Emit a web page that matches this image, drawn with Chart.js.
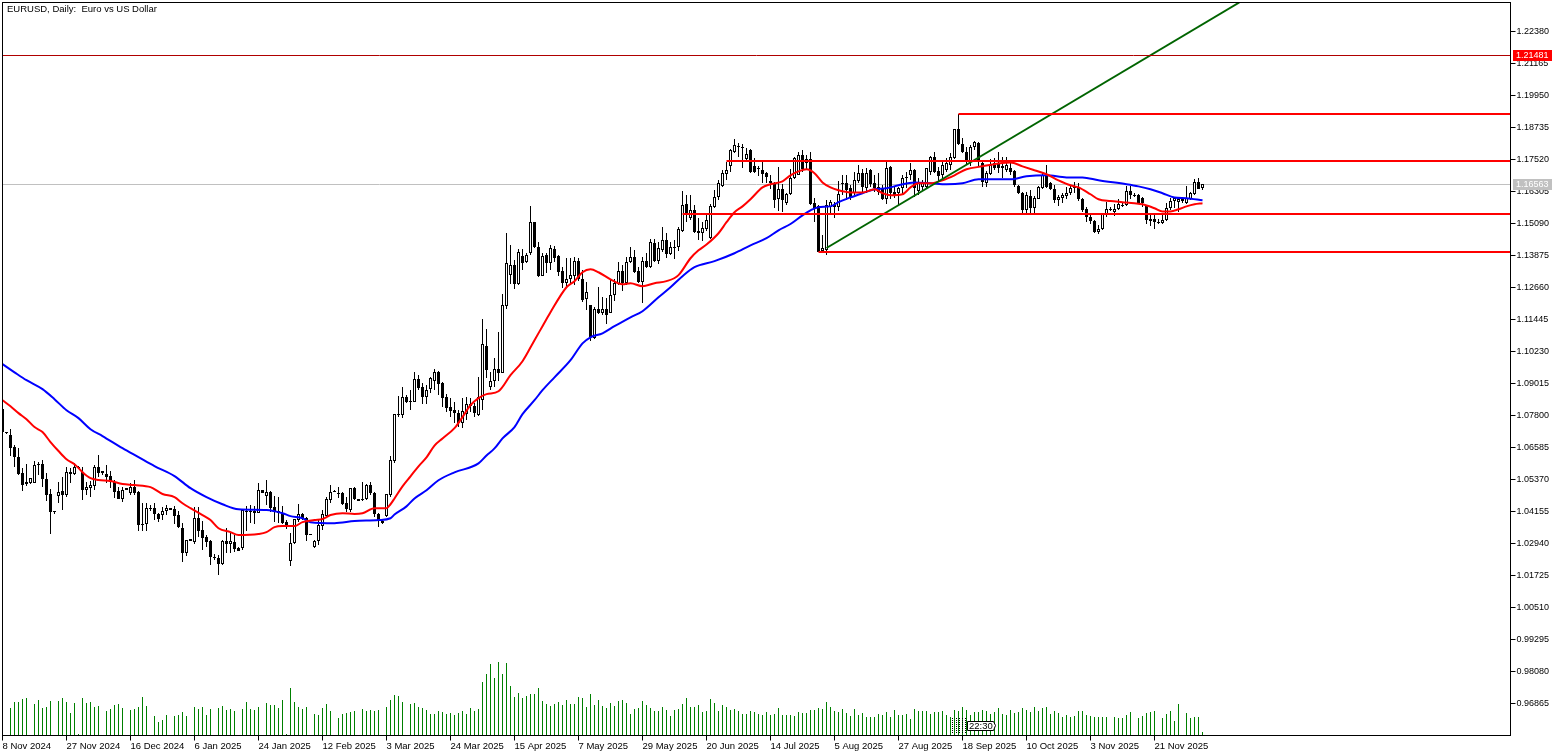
<!DOCTYPE html>
<html>
<head>
<meta charset="utf-8">
<title>EURUSD, Daily</title>
<script src="https://cdn.jsdelivr.net/npm/chart.js@4"></script>
<style>
  html, body { margin: 0; padding: 0; background: #fff; overflow: hidden; }
  canvas { display: block; }
</style>
</head>
<body>
<canvas id="chart" width="1563" height="756"></canvas>
<script>
// Daily bars
const opens = [
  1.0803,1.0715,1.0704,1.0659,1.0620,1.0560,1.0525,1.0522,1.0522,1.0594,
  1.0594,1.0537,1.0480,1.0416,1.0473,1.0491,1.0476,1.0564,1.0556,1.0582,
  1.0564,1.0495,1.0503,1.0510,1.0582,1.0568,1.0556,1.0549,1.0525,1.0491,
  1.0461,1.0495,1.0484,1.0506,1.0488,1.0367,1.0367,1.0428,1.0428,1.0405,
  1.0401,1.0416,1.0428,1.0424,1.0401,1.0352,1.0257,1.0310,1.0298,1.0390,
  1.0344,1.0317,1.0302,1.0241,1.0237,1.0215,1.0302,1.0291,1.0298,1.0275,
  1.0275,1.0416,1.0416,1.0416,1.0409,1.0495,1.0473,1.0488,1.0431,1.0416,
  1.0405,1.0374,1.0226,1.0295,1.0382,1.0405,1.0390,1.0329,1.0279,1.0302,
  1.0359,1.0397,1.0458,1.0488,1.0484,1.0484,1.0446,1.0420,1.0503,1.0461,
  1.0458,1.0461,1.0514,1.0484,1.0405,1.0378,1.0397,1.0476,1.0605,1.0784,
  1.0780,1.0848,1.0833,1.0829,1.0917,1.0887,1.0848,1.0879,1.0909,1.0943,
  1.0902,1.0848,1.0810,1.0799,1.0788,1.0750,1.0784,1.0814,1.0814,1.0780,
  1.0837,1.1042,1.0887,1.0909,1.0955,1.0940,1.1195,1.1312,1.1350,1.1278,
  1.1384,1.1361,1.1396,1.1513,1.1418,1.1308,1.1388,1.1358,1.1411,1.1384,
  1.1327,1.1282,1.1297,1.1308,1.1365,1.1297,1.1221,1.1198,1.1073,1.1183,
  1.1168,1.1183,1.1168,1.1236,1.1278,1.1327,1.1282,1.1361,1.1380,1.1327,
  1.1285,1.1365,1.1342,1.1434,1.1365,1.1407,1.1445,1.1392,1.1418,1.1418,
  1.1479,1.1582,1.1529,1.1559,1.1479,1.1471,1.1487,1.1453,1.1570,1.1608,
  1.1650,1.1696,1.1726,1.1779,1.1802,1.1798,1.1752,1.1786,1.1726,1.1718,
  1.1711,1.1699,1.1669,1.1661,1.1601,1.1639,1.1586,1.1620,1.1680,1.1692,
  1.1768,1.1752,1.1752,1.1586,1.1574,1.1403,1.1407,1.1570,1.1578,1.1570,
  1.1661,1.1661,1.1642,1.1624,1.1669,1.1699,1.1642,1.1711,1.1661,1.1646,
  1.1642,1.1601,1.1722,1.1627,1.1624,1.1642,1.1680,1.1692,1.1711,1.1631,
  1.1646,1.1646,1.1703,1.1760,1.1707,1.1692,1.1711,1.1730,1.1756,1.1866,
  1.1809,1.1779,1.1741,1.1798,1.1813,1.1737,1.1661,1.1696,1.1737,1.1737,
  1.1726,1.1711,1.1718,1.1707,1.1650,1.1623,1.1559,1.1612,1.1567,1.1601,
  1.1642,1.1696,1.1661,1.1639,1.1597,1.1605,1.1612,1.1623,1.1642,1.1646,
  1.1601,1.1563,1.1532,1.1517,1.1475,1.1487,1.1540,1.1563,1.1552,1.1563,
  1.1578,1.1578,1.1631,1.1616,1.1616,1.1605,1.1574,1.1525,1.1525,1.1513,
  1.1509,1.1521,1.1567,1.1593,1.1589,1.1601,1.1586,1.1601,1.1620,1.1665,1.1642
];
const highs = [
  1.0803,1.0715,1.0727,1.0666,1.0655,1.0579,1.0594,1.0541,1.0605,1.0601,
  1.0609,1.0560,1.0499,1.0416,1.0525,1.0545,1.0582,1.0579,1.0598,1.0586,
  1.0582,1.0525,1.0530,1.0590,1.0628,1.0568,1.0590,1.0568,1.0533,1.0506,
  1.0506,1.0503,1.0522,1.0533,1.0491,1.0446,1.0446,1.0439,1.0446,1.0409,
  1.0431,1.0439,1.0428,1.0435,1.0416,1.0371,1.0306,1.0310,1.0431,1.0431,
  1.0378,1.0325,1.0306,1.0253,1.0249,1.0306,1.0352,1.0336,1.0325,1.0279,
  1.0420,1.0435,1.0439,1.0435,1.0522,1.0495,1.0533,1.0491,1.0473,1.0469,
  1.0435,1.0382,1.0333,1.0386,1.0443,1.0409,1.0393,1.0329,1.0306,1.0382,
  1.0420,1.0469,1.0514,1.0495,1.0506,1.0488,1.0469,1.0503,1.0506,1.0461,
  1.0525,1.0518,1.0525,1.0488,1.0409,1.0382,1.0480,1.0624,1.0784,1.0852,
  1.0886,1.0856,1.0875,1.0943,1.0932,1.0902,1.0894,1.0924,1.0955,1.0947,
  1.0905,1.0860,1.0845,1.0829,1.0799,1.0845,1.0848,1.0845,1.0826,1.0924,
  1.1145,1.1107,1.0943,1.0997,1.1096,1.1240,1.1472,1.1426,1.1369,1.1411,
  1.1411,1.1396,1.1574,1.1513,1.1437,1.1396,1.1396,1.1426,1.1422,1.1388,
  1.1342,1.1377,1.1377,1.1380,1.1377,1.1331,1.1285,1.1198,1.1190,1.1267,
  1.1229,1.1225,1.1297,1.1297,1.1361,1.1350,1.1380,1.1418,1.1407,1.1342,
  1.1380,1.1396,1.1449,1.1449,1.1437,1.1494,1.1472,1.1437,1.1445,1.1494,
  1.1631,1.1616,1.1616,1.1578,1.1529,1.1513,1.1548,1.1582,1.1635,1.1673,
  1.1711,1.1741,1.1790,1.1828,1.1813,1.1809,1.1794,1.1790,1.1756,1.1726,
  1.1745,1.1703,1.1692,1.1665,1.1722,1.1658,1.1624,1.1715,1.1760,1.1779,
  1.1786,1.1768,1.1779,1.1605,1.1578,1.1464,1.1597,1.1597,1.1589,1.1669,
  1.1692,1.1692,1.1654,1.1703,1.1730,1.1715,1.1718,1.1715,1.1692,1.1699,
  1.1654,1.1741,1.1726,1.1646,1.1646,1.1692,1.1703,1.1737,1.1715,1.1680,
  1.1673,1.1718,1.1764,1.1779,1.1722,1.1749,1.1756,1.1775,1.1866,1.1923,
  1.1832,1.1798,1.1805,1.1821,1.1817,1.1749,1.1707,1.1752,1.1756,1.1779,
  1.1760,1.1760,1.1737,1.1711,1.1654,1.1627,1.1627,1.1635,1.1612,1.1650,
  1.1703,1.1730,1.1665,1.1654,1.1616,1.1623,1.1646,1.1654,1.1665,1.1661,
  1.1605,1.1570,1.1540,1.1521,1.1502,1.1544,1.1589,1.1570,1.1582,1.1601,
  1.1586,1.1650,1.1650,1.1623,1.1620,1.1608,1.1578,1.1548,1.1548,1.1525,
  1.1548,1.1586,1.1605,1.1608,1.1608,1.1608,1.1650,1.1627,1.1677,1.1680,1.1658
];
const lows = [
  1.0685,1.0708,1.0624,1.0582,1.0552,1.0491,1.0510,1.0518,1.0522,1.0552,
  1.0506,1.0454,1.0329,1.0405,1.0446,1.0420,1.0469,1.0522,1.0552,1.0578,
  1.0458,1.0476,1.0469,1.0495,1.0545,1.0552,1.0522,1.0503,1.0465,1.0461,
  1.0450,1.0495,1.0476,1.0476,1.0340,1.0340,1.0340,1.0416,1.0382,1.0374,
  1.0382,1.0401,1.0420,1.0367,1.0352,1.0222,1.0245,1.0302,1.0291,1.0317,
  1.0268,1.0279,1.0211,1.0230,1.0173,1.0211,1.0257,1.0257,1.0260,1.0264,
  1.0268,1.0340,1.0371,1.0367,1.0409,1.0484,1.0439,1.0412,1.0374,1.0371,
  1.0367,1.0348,1.0207,1.0291,1.0374,1.0382,1.0302,1.0325,1.0275,1.0287,
  1.0344,1.0389,1.0446,1.0488,1.0465,1.0438,1.0412,1.0412,1.0458,1.0454,
  1.0454,1.0458,1.0476,1.0393,1.0355,1.0367,1.0393,1.0469,1.0598,1.0773,
  1.0769,1.0826,1.0799,1.0829,1.0875,1.0822,1.0822,1.0864,1.0875,1.0856,
  1.0810,1.0792,1.0773,1.0750,1.0735,1.0731,1.0761,1.0792,1.0773,1.0777,
  1.0799,1.0921,1.0875,1.0887,1.0909,1.0940,1.1183,1.1278,1.1259,1.1274,
  1.1331,1.1358,1.1388,1.1414,1.1304,1.1308,1.1320,1.1331,1.1361,1.1308,
  1.1263,1.1267,1.1274,1.1274,1.1289,1.1209,1.1179,1.1061,1.1069,1.1164,
  1.1160,1.1126,1.1168,1.1213,1.1274,1.1251,1.1274,1.1358,1.1320,1.1282,
  1.1206,1.1339,1.1339,1.1361,1.1354,1.1399,1.1377,1.1388,1.1373,1.1403,
  1.1475,1.1513,1.1521,1.1471,1.1445,1.1441,1.1479,1.1449,1.1567,1.1597,
  1.1646,1.1673,1.1703,1.1775,1.1760,1.1719,1.1749,1.1699,1.1699,1.1688,
  1.1661,1.1661,1.1639,1.1567,1.1555,1.1552,1.1578,1.1616,1.1677,1.1692,
  1.1703,1.1711,1.1578,1.1513,1.1399,1.1399,1.1388,1.1548,1.1529,1.1555,
  1.1616,1.1597,1.1597,1.1616,1.1661,1.1624,1.1624,1.1646,1.1627,1.1616,
  1.1597,1.1582,1.1601,1.1605,1.1578,1.1616,1.1642,1.1673,1.1608,1.1616,
  1.1635,1.1642,1.1692,1.1699,1.1665,1.1680,1.1703,1.1711,1.1752,1.1805,
  1.1775,1.1730,1.1726,1.1786,1.1726,1.1646,1.1646,1.1692,1.1711,1.1699,
  1.1680,1.1703,1.1692,1.1646,1.1620,1.1548,1.1548,1.1548,1.1548,1.1601,
  1.1639,1.1642,1.1635,1.1586,1.1574,1.1586,1.1601,1.1616,1.1623,1.1593,
  1.1552,1.1513,1.1506,1.1471,1.1468,1.1483,1.1532,1.1555,1.1536,1.1559,
  1.1570,1.1574,1.1601,1.1608,1.1582,1.1570,1.1506,1.1498,1.1487,1.1506,
  1.1506,1.1517,1.1559,1.1567,1.1552,1.1586,1.1582,1.1597,1.1616,1.1639,1.1635
];
const closes = [
  1.0715,1.0713,1.0655,1.0621,1.0556,1.0514,1.0518,1.0541,1.0590,1.0590,
  1.0537,1.0476,1.0412,1.0412,1.0488,1.0476,1.0564,1.0556,1.0582,1.0582,
  1.0495,1.0506,1.0514,1.0582,1.0560,1.0560,1.0545,1.0525,1.0487,1.0461,
  1.0495,1.0503,1.0506,1.0484,1.0363,1.0363,1.0428,1.0424,1.0405,1.0386,
  1.0416,1.0428,1.0420,1.0397,1.0355,1.0257,1.0306,1.0302,1.0390,1.0340,
  1.0314,1.0298,1.0241,1.0237,1.0215,1.0302,1.0291,1.0302,1.0272,1.0264,
  1.0420,1.0412,1.0412,1.0409,1.0495,1.0484,1.0488,1.0428,1.0412,1.0409,
  1.0371,1.0363,1.0295,1.0386,1.0405,1.0386,1.0325,1.0325,1.0302,1.0363,
  1.0405,1.0461,1.0488,1.0491,1.0480,1.0442,1.0424,1.0503,1.0461,1.0454,
  1.0461,1.0514,1.0484,1.0405,1.0382,1.0371,1.0480,1.0609,1.0784,1.0780,
  1.0848,1.0829,1.0829,1.0917,1.0883,1.0848,1.0875,1.0920,1.0943,1.0898,
  1.0845,1.0807,1.0795,1.0788,1.0750,1.0795,1.0822,1.0822,1.0788,1.0848,
  1.1050,1.0951,1.0909,1.0955,1.0940,1.1198,1.1358,1.1350,1.1278,1.1399,
  1.1358,1.1388,1.1513,1.1418,1.1308,1.1384,1.1358,1.1414,1.1377,1.1323,
  1.1282,1.1297,1.1312,1.1365,1.1297,1.1217,1.1247,1.1076,1.1183,1.1168,
  1.1183,1.1160,1.1236,1.1282,1.1327,1.1282,1.1361,1.1380,1.1323,1.1285,
  1.1365,1.1342,1.1437,1.1365,1.1414,1.1445,1.1392,1.1418,1.1414,1.1487,
  1.1578,1.1548,1.1559,1.1475,1.1471,1.1490,1.1521,1.1574,1.1608,1.1661,
  1.1700,1.1711,1.1786,1.1805,1.1798,1.1794,1.1771,1.1703,1.1703,1.1718,
  1.1696,1.1684,1.1661,1.1597,1.1639,1.1597,1.1620,1.1680,1.1756,1.1768,
  1.1715,1.1737,1.1582,1.1567,1.1399,1.1414,1.1578,1.1589,1.1570,1.1620,
  1.1658,1.1635,1.1608,1.1673,1.1699,1.1646,1.1699,1.1658,1.1642,1.1627,
  1.1601,1.1718,1.1624,1.1616,1.1642,1.1680,1.1684,1.1711,1.1642,1.1661,
  1.1665,1.1718,1.1760,1.1703,1.1688,1.1730,1.1737,1.1760,1.1866,1.1809,
  1.1779,1.1741,1.1798,1.1817,1.1741,1.1665,1.1699,1.1730,1.1718,1.1718,
  1.1718,1.1730,1.1703,1.1654,1.1623,1.1559,1.1616,1.1567,1.1605,1.1646,
  1.1692,1.1646,1.1639,1.1597,1.1608,1.1616,1.1623,1.1642,1.1650,1.1601,
  1.1559,1.1532,1.1517,1.1475,1.1487,1.1544,1.1563,1.1563,1.1563,1.1582,
  1.1574,1.1631,1.1616,1.1616,1.1586,1.1586,1.1521,1.1517,1.1513,1.1509,
  1.1521,1.1567,1.1593,1.1605,1.1601,1.1593,1.1605,1.1623,1.1665,1.1639,1.1656
];
// Tick volume in thousands
const volumes = [
  0,0,27,33,33,36,37,0,31,35, 27,28,34,0,34,37,33,22,32,1,
  37,32,33,28,29,0,24,26,30,31, 27,0,25,26,28,38,29,0,19,13,
  15,20,0,19,20,23,19,0,28,26, 28,20,26,0,27,29,25,26,24,0,
  26,33,26,25,28,0,32,30,30,27, 35,1,47,33,28,26,28,0,21,20,
  27,31,24,0,17,21,22,23,24,0, 26,24,25,24,25,0,28,35,40,39,
  33,0,31,32,28,27,25,21,21,24, 23,21,22,20,22,24,21,27,24,26,
  53,61,71,57,73,61,72,49,38,42, 37,39,41,41,47,34,31,29,31,33,
  30,35,31,31,38,37,28,41,30,35, 29,27,32,29,34,35,32,21,26,27,
  34,30,27,24,24,28,25,19,25,26, 31,37,28,28,30,23,24,36,32,24,
  30,28,25,26,24,21,21,24,23,21, 20,23,20,21,27,20,20,20,19,23,
  22,22,25,25,27,26,33,28,24,23, 26,22,19,26,20,22,18,18,18,21,
  20,23,18,25,20,20,21,16,26,24, 24,24,21,23,23,24,20,18,25,24,
  28,25,20,23,23,25,24,21,23,27, 21,20,25,22,23,27,25,23,28,24,
  27,28,21,24,22,18,20,18,19,24, 24,20,19,18,18,18,18,0,18,17,
  17,20,23,0,17,19,22,23,24,0, 17,21,24,14,31,0,22,17,18,18,3
];

// Moving averages, sampled at the bars listed
const fastMaBars = [0,2,4,6,8,10,12,14,16,18,20,22,24,27,30,33,37,40,43,45,47,50,52,54,57,59,64,66,68,70,73,75,78,80,82,85,88,90,93,96,97,98,100,102,104,106,108,110,113,115,117,119,121,124,127,130,133,135,137,141,143,145,147,149,152,155,157,160,163,166,169,172,174,176,179,181,183,185,187,190,192,195,197,199,201,203,205,207,209,212,215,218,220,222,225,227,229,232,235,238,241,245,249,252,255,258,261,264,267,269,272,274,277,280,283,285,288,290,292,294,296,298,300];
const fastMa = [1.0838,1.0815,1.0789,1.0766,1.0736,1.0717,1.0679,1.0645,1.0614,1.0595,1.0565,1.0542,1.0535,1.0531,1.0520,1.0516,1.0508,1.0482,1.0470,1.0447,1.0428,1.0402,1.0383,1.0352,1.0337,1.0326,1.0330,1.0337,1.0356,1.0360,1.0360,1.0375,1.0383,1.0387,1.0402,1.0409,1.0406,1.0409,1.0428,1.0428,1.0443,1.0465,1.0511,1.0549,1.0587,1.0621,1.0666,1.0693,1.0732,1.0774,1.0819,1.0846,1.0861,1.0872,1.0933,1.0986,1.1066,1.1119,1.1172,1.1267,1.1290,1.1324,1.1335,1.1324,1.1297,1.1278,1.1282,1.1271,1.1282,1.1290,1.1313,1.1377,1.1407,1.1429,1.1472,1.1514,1.1552,1.1574,1.1601,1.1646,1.1658,1.1669,1.1692,1.1707,1.1715,1.1700,1.1665,1.1646,1.1635,1.1627,1.1627,1.1639,1.1624,1.1616,1.1620,1.1646,1.1662,1.1662,1.1673,1.1692,1.1715,1.1726,1.1737,1.1741,1.1726,1.1711,1.1696,1.1673,1.1654,1.1646,1.1620,1.1601,1.1594,1.1590,1.1586,1.1582,1.1567,1.1555,1.1555,1.1563,1.1574,1.1582,1.1586];
const slowMaBars = [0,3,6,10,13,16,19,22,25,30,34,38,43,47,51,55,59,66,70,72,75,77,83,88,94,97,98,101,103,106,109,113,119,121,123,125,128,130,133,135,138,142,145,147,150,153,157,160,164,167,170,173,178,183,187,191,194,197,200,202,204,207,209,212,215,218,221,224,228,232,236,240,244,249,252,256,261,266,270,274,281,284,287,290,293,296,300];
const slowMa = [1.0975,1.0944,1.0914,1.0880,1.0842,1.0800,1.0770,1.0728,1.0702,1.0656,1.0622,1.0588,1.0550,1.0504,1.0470,1.0443,1.0424,1.0421,1.0409,1.0398,1.0390,1.0375,1.0371,1.0379,1.0383,1.0390,1.0404,1.0435,1.0465,1.0496,1.0534,1.0564,1.0598,1.0628,1.0655,1.0693,1.0736,1.0785,1.0838,1.0876,1.0925,1.0990,1.1054,1.1077,1.1092,1.1119,1.1153,1.1176,1.1229,1.1267,1.1309,1.1343,1.1366,1.1396,1.1426,1.1453,1.1483,1.1507,1.1540,1.1559,1.1571,1.1574,1.1590,1.1608,1.1624,1.1639,1.1643,1.1654,1.1665,1.1662,1.1658,1.1662,1.1677,1.1677,1.1677,1.1688,1.1692,1.1684,1.1684,1.1673,1.1658,1.1650,1.1639,1.1624,1.1608,1.1605,1.1597];

// Levels drawn on the chart: price and the bar each one starts from
const levelPrices = [1.1925, 1.17463, 1.15451, 1.14008];
const levelStartBars = [239, 181, 170, 204];
const trendBars = [206, 309.2];
const trendPrices = [1.1416, 1.23481];
const stopLevel = 1.21481;
const bidLevel = 1.16563;

const priceTicks = [1.22380,1.21165,1.19950,1.18735,1.17520,1.16305,1.15090,1.13875,1.12660,1.11445,1.10230,1.09015,1.07800,1.06585,1.05370,1.04155,1.02940,1.01725,1.00510,0.99295,0.98080,0.96865];
const dateLabels = ['8 Nov 2024','27 Nov 2024','16 Dec 2024','6 Jan 2025','24 Jan 2025','12 Feb 2025','3 Mar 2025','24 Mar 2025','15 Apr 2025','7 May 2025','29 May 2025','20 Jun 2025','14 Jul 2025','5 Aug 2025','27 Aug 2025','18 Sep 2025','10 Oct 2025','3 Nov 2025','21 Nov 2025'];
const barsPerLabel = 16;
const lastSlot = 377;

const chartFont = '"Liberation Sans", Arial, sans-serif';

const wickData = highs.map((h, i) => ({ x: i, y: [lows[i], h] }));
const bodyData = opens.map((o, i) => ({ x: i, y: [o, closes[i]] }));
const bodyColors = opens.map((o, i) => (closes[i] > o ? '#ffffff' : '#000000'));
const volumeData = volumes.map((v, i) => ({ x: i, y: v })).filter(d => d.y > 0);

function pairs(xs, ys) {
  return xs.map((x, i) => ({ x: x, y: ys[i] }));
}

function lineSet(data, color, width, order, extra) {
  return Object.assign({ type: 'line', data: data, borderColor: color, borderWidth: width, pointRadius: 0, tension: 0, order: order, yAxisID: 'y' }, extra);
}

// MT5 draws on whole pixels, so snap the bars and the hairlines the same way
const snapBars = {
  id: 'snapBars',
  afterDatasetsUpdate(chart) {
    chart.data.datasets.forEach((ds, i) => {
      const points = chart.getDatasetMeta(i).data;
      if (ds.type === 'line') {
        if (ds.hairline) points.forEach(el => { el.y = Math.floor(el.y) + 0.5; });
        return;
      }
      points.forEach(el => {
        el.y = Math.floor(el.y);
        el.base = Math.floor(el.base);
        if (el.y === el.base) el.base = el.y + 1;
      });
    });
  }
};

function priceTag(ctx, scale, value, bg) {
  const y = Math.floor(scale.getPixelForValue(value));
  ctx.fillStyle = bg;
  ctx.fillRect(1513, y - 5, 39, 11);
  ctx.fillStyle = '#ffffff';
  ctx.font = '9px ' + chartFont;
  ctx.textAlign = 'left';
  ctx.textBaseline = 'middle';
  ctx.fillText(value.toFixed(5), 1516, y + 0.5);
}

const overlay = {
  id: 'overlay',
  afterDraw(chart) {
    const ctx = chart.ctx;
    const a = chart.chartArea;
    ctx.save();
    // frame
    ctx.strokeStyle = '#000000';
    ctx.lineWidth = 1;
    ctx.strokeRect(a.left, a.top, a.right - a.left, a.bottom - a.top);
    // title
    ctx.fillStyle = '#000000';
    ctx.font = '9.5px ' + chartFont;
    ctx.textAlign = 'left';
    ctx.textBaseline = 'middle';
    ctx.fillText('EURUSD, Daily:  Euro vs US Dollar', 7, 9.5);
    // price tags on the axis
    priceTag(ctx, chart.scales.y, stopLevel, '#ff0000');
    priceTag(ctx, chart.scales.y, bidLevel, '#c0c0c0');
    // period separators and the time tag near the bottom
    ctx.setLineDash([1, 1]);
    [952.5, 956.5, 959.5, 962.5, 965.5].forEach(x => {
      ctx.beginPath();
      ctx.moveTo(x, 718);
      ctx.lineTo(x, 734);
      ctx.stroke();
    });
    ctx.setLineDash([]);
    ctx.beginPath();
    ctx.moveTo(967.5, 721.5);
    ctx.lineTo(993.5, 721.5);
    ctx.lineTo(995.5, 725.5);
    ctx.lineTo(993.5, 730.5);
    ctx.lineTo(967.5, 730.5);
    ctx.closePath();
    ctx.fillStyle = '#ffffff';
    ctx.fill();
    ctx.stroke();
    ctx.fillStyle = '#000000';
    ctx.font = '9.5px ' + chartFont;
    ctx.textAlign = 'left';
    ctx.textBaseline = 'middle';
    ctx.fillText('22:30', 969, 726.5);
    ctx.restore();
  }
};

new Chart(document.getElementById('chart'), {
  type: 'bar',
  plugins: [snapBars, overlay],
  data: {
    datasets: [
      { label: 'Volume', data: volumeData, backgroundColor: '#008000', barThickness: 1, grouped: false, yAxisID: 'vol', order: 9, inflateAmount: 0 },
      lineSet(pairs([0, lastSlot], [bidLevel, bidLevel]), '#c0c0c0', 1, 8, { hairline: true }),
      { label: 'Wicks', data: wickData, backgroundColor: '#000000', barThickness: 1, grouped: false, yAxisID: 'y', order: 7, inflateAmount: 0 },
      { label: 'Bodies', data: bodyData, backgroundColor: bodyColors, borderColor: '#000000', borderWidth: 1, borderSkipped: false, barThickness: 3, grouped: false, yAxisID: 'y', order: 6, inflateAmount: 0 },
      lineSet(pairs(slowMaBars, slowMa), '#0000ff', 2, 5, { cubicInterpolationMode: 'monotone' }),
      lineSet(pairs(fastMaBars, fastMa), '#ff0000', 2, 4, { cubicInterpolationMode: 'monotone' }),
      lineSet(pairs(trendBars, trendPrices), '#006400', 2, 3),
      lineSet(pairs([0, lastSlot], [stopLevel, stopLevel]), '#b00000', 1, 2, { hairline: true }),
      ...levelPrices.map((p, i) => lineSet(pairs([levelStartBars[i], lastSlot], [p, p]), '#ff0000', 2, 1))
    ]
  },
  options: {
    responsive: false,
    animation: false,
    events: [],
    layout: { padding: { left: 2.5, top: 2.5, right: 0, bottom: 0 } },
    plugins: { legend: { display: false }, tooltip: { enabled: false } },
    scales: {
      x: {
        type: 'linear',
        min: 0,
        max: lastSlot,
        offset: false,
        afterFit: s => { s.height = 20.5; s.paddingLeft = 0; s.paddingRight = 0; },
        afterBuildTicks: s => { s.ticks = dateLabels.map((_, i) => ({ value: i * barsPerLabel })); },
        border: { display: false },
        grid: { offset: false, drawOnChartArea: false, drawTicks: true, tickLength: 5, tickColor: '#000000' },
        ticks: {
          color: '#000000',
          font: { family: chartFont, size: 9.5 },
          align: 'start',
          maxRotation: 0,
          autoSkip: false,
          padding: 0,
          callback: v => dateLabels[v / barsPerLabel]
        }
      },
      y: {
        position: 'right',
        min: 0.9565,
        max: 1.23481,
        afterFit: s => { s.width = 52.5; s.paddingTop = 0; s.paddingBottom = 0; },
        afterBuildTicks: s => { s.ticks = priceTicks.map(v => ({ value: v })); },
        border: { display: false },
        grid: { drawOnChartArea: false, drawTicks: true, tickLength: 5, tickColor: '#000000' },
        ticks: {
          color: '#000000',
          font: { family: chartFont, size: 9 },
          padding: 1,
          autoSkip: false,
          callback: v => v.toFixed(5)
        }
      },
      vol: { display: false, min: 0, max: 733 }
    }
  }
});
</script>
</body>
</html>
